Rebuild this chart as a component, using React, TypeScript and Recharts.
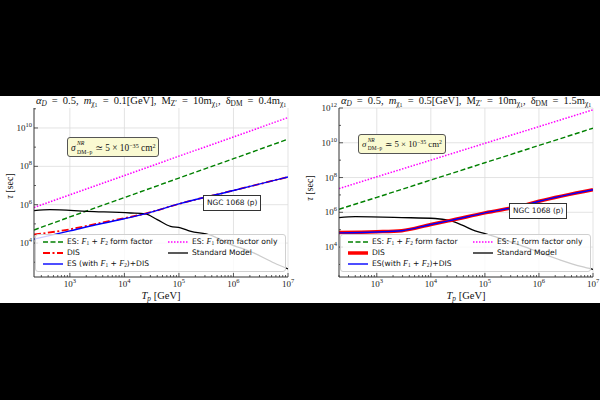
import React from "react";
import { LineChart, Line, XAxis, YAxis, CartesianGrid } from "recharts";

// T_p [GeV] vs tau [sec]

// left panel: m_chi1 = 0.1 GeV
const leftX = [220, 1e3, 1e4, 1e5, 1e6, 1e7];
const leftF1Only = [7.2e5, 3.3e6, 3.3e7, 3.4e8, 3.4e9, 3.5e10];
const leftF1F2 = [4.8e4, 2.3e5, 2.35e6, 2.45e7, 2.5e8, 2.6e9];
const leftDisX = [220, 1e3, 3e3, 1e4, 2.4e4, 1e5, 1e6, 1e7];
const leftDis = [2.8e4, 5.2e4, 1.0e5, 2.0e5, 3.4e5, 1.1e6, 5.5e6, 2.8e7];
const leftTotal = [1.6e4, 4.3e4, 9.0e4, 1.85e5, 3.3e5, 1.1e6, 5.5e6, 2.8e7];
const leftSmX = [220, 430, 2100, 1.3e4, 2.4e4, 4e4, 7e4, 1.07e5, 1.6e5, 3.8e5, 7.8e5, 2.4e6, 5.6e6, 1e7];
const leftSm = [4.9e5, 5.5e5, 4.5e5, 3.7e5, 3.3e5, 1.66e5, 7.4e4, 6.2e4, 4.2e4, 2.6e4, 1.0e4, 3.0e3, 9.1e2, 4.5e2];

// right panel: m_chi1 = 0.5 GeV
const rightX = [200, 1e3, 1e4, 1e5, 1e6, 1e7];
const rightF1Only = [2.3e7, 1.1e8, 1.0e9, 9.3e9, 8.5e10, 7.9e11];
const rightF1F2 = [1.5e6, 7.2e6, 7.2e7, 7.1e8, 7.0e9, 6.9e10];
const rightTotX = [200, 1e3, 2.9e3, 1e4, 2.1e4, 1e5, 5.5e5, 1e6, 1e7];
const rightDis = [6.9e4, 7.6e4, 8.8e4, 2.0e5, 3.2e5, 9.3e5, 2.6e6, 4.3e6, 2.0e7];
const rightTotal = [6.6e4, 7.4e4, 8.7e4, 2.0e5, 3.2e5, 9.3e5, 2.6e6, 4.3e6, 2.0e7];
const rightSmX = [200, 400, 2900, 1.2e4, 2.1e4, 3.7e4, 6.6e4, 1e5, 7.8e5, 2.5e6, 6.3e6, 1e7];
const rightSm = [5.0e5, 5.6e5, 5.0e5, 4.4e5, 3.5e5, 1.9e5, 8.5e4, 6.0e4, 6.8e3, 1.8e3, 7.4e2, 5.2e2];

// axes
const xMajor = [1e3, 1e4, 1e5, 1e6, 1e7];
const leftYMajor = [1e4, 1e6, 1e8, 1e10];
const leftYMinor = [1e3, 1e5, 1e7, 1e9, 1e11];
const rightYMajor = [1e4, 1e6, 1e8, 1e10, 1e12];
const rightYMinor = [1e3, 1e5, 1e7, 1e9, 1e11];

const SERIF = "'Liberation Serif', 'DejaVu Serif', serif";
const SANS = "'DejaVu Sans', sans-serif";
const FRAME = "#333";

const pts = (xs: number[], ys: number[]) => xs.map((x, i) => ({ x, y: ys[i] }));

const minorTicks = (lo: number, hi: number) => {
  const out: number[] = [];
  for (let d = 100; d < hi; d *= 10) {
    for (let k = 2; k <= 9; k++) {
      const v = k * d;
      if (v >= lo && v <= hi) out.push(v);
    }
  }
  return out;
};

const isPow10 = (v: number) => Math.abs(Math.log10(v) - Math.round(Math.log10(v))) < 1e-6;
const exp10 = (v: number) => Math.round(Math.log10(v));

const BottomTick = (props: any) => {
  const { x, y, payload } = props;
  const major = isPow10(payload.value);
  return (
    <g>
      <line x1={x} x2={x} y1={y} y2={y - (major ? 4 : 2)} stroke={FRAME} strokeWidth={0.8} />
      {major && (
        <text x={x} y={y + 10} textAnchor="middle" fontFamily={SERIF} fontSize={9} fill="#222">
          10<tspan dy={-4} fontSize={6.5}>{exp10(payload.value)}</tspan>
        </text>
      )}
    </g>
  );
};

const TopTick = (props: any) => {
  const { x, y, payload } = props;
  const major = isPow10(payload.value);
  return <line x1={x} x2={x} y1={y} y2={y + (major ? 4 : 2)} stroke={FRAME} strokeWidth={0.8} />;
};

const makeLeftTick = (majors: number[]) => (props: any) => {
  const { x, y, payload } = props;
  const major = majors.includes(payload.value);
  return (
    <g>
      <line x1={x} x2={x + (major ? 4 : 2)} y1={y} y2={y} stroke={FRAME} strokeWidth={0.8} />
      {major && (
        <text x={x - 2} y={y + 3} textAnchor="end" fontFamily={SERIF} fontSize={9} fill="#222">
          10<tspan dy={-4} fontSize={6.5}>{exp10(payload.value)}</tspan>
        </text>
      )}
    </g>
  );
};

const makeRightTick = (majors: number[]) => (props: any) => {
  const { x, y, payload } = props;
  const major = majors.includes(payload.value);
  return <line x1={x} x2={x - (major ? 4 : 2)} y1={y} y2={y} stroke={FRAME} strokeWidth={0.8} />;
};

const F = ({ n }: { n: number }) => (
  <span>
    <i style={{ fontFamily: SERIF, fontSize: "1.05em" }}>F</i>
    <sub style={{ fontFamily: SERIF, fontSize: "0.7em", verticalAlign: "-0.25em" }}>{n}</sub>
  </span>
);

const Sub = ({ children }: { children: React.ReactNode }) => (
  <sub style={{ fontSize: "0.7em", verticalAlign: "-0.3em" }}>{children}</sub>
);

const chi1 = (
  <Sub>
    χ<sub style={{ fontSize: "0.8em", verticalAlign: "-0.2em" }}>1</sub>
  </Sub>
);

interface PanelProps {
  left: number;
  yAxisWidth: number;
  marginRight: number;
  xDomain: [number, number];
  yDomain: [number, number];
  yMajor: number[];
  yMinor: number[];
  f1Only: { x: number; y: number }[];
  f1f2: { x: number; y: number }[];
  dis: { x: number; y: number }[];
  total: { x: number; y: number }[];
  sm: { x: number; y: number }[];
  thickDis?: boolean;
}

const Panel: React.FC<PanelProps> = ({
  left, yAxisWidth, marginRight, xDomain, yDomain, yMajor, yMinor,
  f1Only, f1f2, dis, total, sm, thickDis
}) => {
  const xTicks = [...xMajor, ...minorTicks(xDomain[0], xDomain[1])].sort((a, b) => a - b);
  const yTicks = [...yMajor, ...yMinor].filter((v) => v >= yDomain[0] && v <= yDomain[1]).sort((a, b) => a - b);
  return (
    <div style={{ position: "absolute", left, top: 96 }}>
      <LineChart width={300} height={207} margin={{ top: 12, right: marginRight, bottom: 0, left: 0 }}>
        <CartesianGrid horizontalValues={yMajor} verticalValues={xMajor} stroke="#dcdcdc" strokeWidth={0.8} />
        <XAxis
          dataKey="x" type="number" scale="log" domain={xDomain} allowDataOverflow
          ticks={xTicks} interval={0} tickSize={0} tickMargin={0} height={26}
          tick={<BottomTick />} axisLine={{ stroke: FRAME, strokeWidth: 1 }} tickLine={false}
        />
        <XAxis
          xAxisId="top" orientation="top" dataKey="x" type="number" scale="log" domain={xDomain}
          allowDataOverflow ticks={xTicks} interval={0} tickSize={0} tickMargin={0} height={0}
          tick={<TopTick />} axisLine={{ stroke: FRAME, strokeWidth: 1 }} tickLine={false}
        />
        <YAxis
          dataKey="y" type="number" scale="log" domain={yDomain} allowDataOverflow
          ticks={yTicks} interval={0} tickSize={0} tickMargin={0} width={yAxisWidth}
          tick={makeLeftTick(yMajor)} axisLine={{ stroke: FRAME, strokeWidth: 1 }} tickLine={false}
        />
        <YAxis
          yAxisId="right" orientation="right" dataKey="y" type="number" scale="log" domain={yDomain}
          allowDataOverflow ticks={yTicks} interval={0} tickSize={0} tickMargin={0} width={0}
          tick={makeRightTick(yMajor)} axisLine={{ stroke: FRAME, strokeWidth: 1 }} tickLine={false}
        />
        <Line data={f1f2} dataKey="y" type="linear" stroke="#008000" strokeWidth={1.4}
          strokeDasharray="5 2.5" dot={false} isAnimationActive={false} />
        <Line data={f1Only} dataKey="y" type="linear" stroke="#ff00ff" strokeWidth={1.5}
          strokeDasharray="1.5 1.5" dot={false} isAnimationActive={false} />
        <Line data={sm} dataKey="y" type="monotone" stroke="#000" strokeWidth={1.3}
          dot={false} isAnimationActive={false} />
        <Line data={dis} dataKey="y" type="monotone" stroke="#ff0000"
          strokeWidth={thickDis ? 3.5 : 1.8} strokeDasharray={thickDis ? undefined : "7 2.5 2 2.5"}
          dot={false} isAnimationActive={false} />
        <Line data={total} dataKey="y" type="monotone" stroke="#0000ff" strokeWidth={1.4}
          dot={false} isAnimationActive={false} />
      </LineChart>
    </div>
  );
};

const Swatch = ({ color, dash, width }: { color: string; dash?: string; width: number }) => (
  <svg width={20} height={6} style={{ position: "absolute", left: 0, top: 2 }}>
    <line x1={0} x2={20} y1={3} y2={3} stroke={color} strokeWidth={width} strokeDasharray={dash} />
  </svg>
);

const LegendItem = ({ x, y, color, dash, width, children }: any) => (
  <div style={{ position: "absolute", left: x, top: y, height: 10, whiteSpace: "nowrap" }}>
    <Swatch color={color} dash={dash} width={width} />
    <span style={{ position: "absolute", left: 24, top: 0, fontFamily: SANS, fontSize: 7.6, lineHeight: "10px", color: "#111" }}>
      {children}
    </span>
  </div>
);

const LegendBox = ({ left, top, thickDis, tight }: { left: number; top: number; thickDis?: boolean; tight?: boolean }) => (
  <div
    style={{
      position: "absolute", left, top, width: 251, height: 38,
      background: "rgba(255,255,255,0.8)", border: "1px solid #d0d0d0", borderRadius: 3, boxSizing: "border-box"
    }}
  >
    <LegendItem x={7} y={2} color="#008000" dash="5 2.5" width={1.4}>
      ES: <F n={1} /> + <F n={2} /> form factor
    </LegendItem>
    <LegendItem x={7} y={13} color="#ff0000" dash={thickDis ? undefined : "7 2.5 2 2.5"} width={thickDis ? 3.5 : 1.8}>
      DIS
    </LegendItem>
    <LegendItem x={7} y={24} color="#0000ff" width={1.4}>
      {tight ? "ES(with " : "ES (with "}<F n={1} /> + <F n={2} />)+DIS
    </LegendItem>
    <LegendItem x={132} y={2} color="#ff00ff" dash="1.5 1.5" width={1.5}>
      ES: <F n={1} /> form factor only
    </LegendItem>
    <LegendItem x={132} y={13} color="#000" width={1.3}>
      Standard Model
    </LegendItem>
  </div>
);

const Sigma = ({ left, top, size }: { left: number; top: number; size: number }) => (
  <div
    style={{
      position: "absolute", left, top, padding: "1px 3px", background: "#fafad2",
      border: "1px solid #555", borderRadius: 3, fontFamily: SERIF, fontSize: size, lineHeight: `${size + 5}px`,
      whiteSpace: "nowrap", color: "#111"
    }}
  >
    <span style={{ position: "relative", display: "inline-block", width: size * 2.6 }}>
      <i>σ</i>
      <span style={{ position: "absolute", left: size * 0.65, top: -size * 0.5, fontSize: size * 0.62 }}><i>NR</i></span>
      <span style={{ position: "absolute", left: size * 0.65, top: size * 0.45, fontSize: size * 0.62 }}>DM−p</span>
    </span>
    ≃ 5 × 10<sup style={{ fontSize: size * 0.66, verticalAlign: "0.5em" }}>−35</sup> cm<sup style={{ fontSize: size * 0.66, verticalAlign: "0.5em" }}>2</sup>
  </div>
);

const Ngc = ({ left, top }: { left: number; top: number }) => (
  <div
    style={{
      position: "absolute", left, top, padding: "2px 3px", background: "#fff",
      border: "1px solid #333", fontFamily: SANS, fontSize: 7.4, lineHeight: "10px", whiteSpace: "nowrap", color: "#111"
    }}
  >
    NGC 1068 (p)
  </div>
);

const Title = ({ cx, m, d }: { cx: number; m: string; d: string }) => (
  <div
    style={{
      position: "absolute", left: cx - 150, top: 94, width: 300, textAlign: "center",
      fontFamily: SERIF, fontSize: 10.5, lineHeight: "13px", wordSpacing: 2.5, whiteSpace: "nowrap", color: "#111"
    }}
  >
    <i>α</i><Sub><i>D</i></Sub> = 0.5, <i>m</i>{chi1} = {m}[GeV], M<Sub>Z′</Sub> = 10m{chi1}, δ<Sub>DM</Sub> = {d}m{chi1}
  </div>
);

const YLabel = ({ x, cy }: { x: number; cy: number }) => (
  <div
    style={{
      position: "absolute", left: x - 30, top: cy - 6, width: 60, textAlign: "center",
      transform: "rotate(-90deg)", fontFamily: SERIF, fontSize: 10, lineHeight: "12px", color: "#111"
    }}
  >
    <i>τ</i> [sec]
  </div>
);

const XLabel = ({ cx }: { cx: number }) => (
  <div
    style={{
      position: "absolute", left: cx - 40, top: 290, width: 80, textAlign: "center",
      fontFamily: SERIF, fontSize: 10.5, lineHeight: "12px", color: "#111"
    }}
  >
    <i>T</i><Sub><i>p</i></Sub> [GeV]
  </div>
);

export default function App() {
  return (
    <div style={{ position: "absolute", left: 0, top: 0, width: 600, height: 400, background: "#000", overflow: "hidden" }}>
      <div style={{ position: "absolute", left: 0, top: 96, width: 600, height: 207, background: "#fff" }} />
      <Panel
        left={0} yAxisWidth={34} marginRight={12}
        xDomain={[220, 1e7]} yDomain={[170, 1.1e11]}
        yMajor={leftYMajor} yMinor={leftYMinor}
        f1Only={pts(leftX, leftF1Only)} f1f2={pts(leftX, leftF1F2)}
        dis={pts(leftDisX, leftDis)} total={pts(leftDisX, leftTotal)} sm={pts(leftSmX, leftSm)}
      />
      <Panel
        left={300} yAxisWidth={39} marginRight={7}
        xDomain={[200, 1e7]} yDomain={[190, 1e12]}
        yMajor={rightYMajor} yMinor={rightYMinor}
        f1Only={pts(rightX, rightF1Only)} f1f2={pts(rightX, rightF1F2)}
        dis={pts(rightTotX, rightDis)} total={pts(rightTotX, rightTotal)} sm={pts(rightSmX, rightSm)}
        thickDis
      />
      <Title cx={161} m="0.1" d="0.4" />
      <Title cx={466} m="0.5" d="1.5" />
      <YLabel x={10} cy={186} />
      <YLabel x={310} cy={188} />
      <XLabel cx={161} />
      <XLabel cx={466} />
      <Sigma left={67} top={137} size={9.3} />
      <Sigma left={358} top={134} size={8.8} />
      <Ngc left={203} top={195} />
      <Ngc left={509} top={203} />
      <LegendBox left={35} top={234} />
      <LegendBox left={340} top={234} thickDis tight />
    </div>
  );
}
